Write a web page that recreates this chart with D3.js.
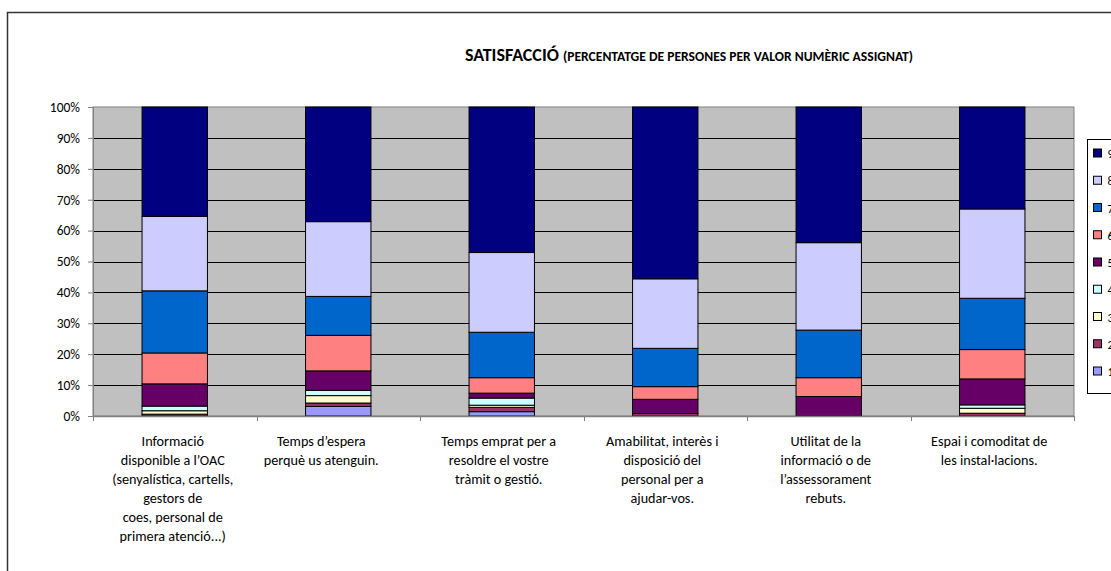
<!DOCTYPE html>
<html>
<head>
<meta charset="utf-8">
<script src="https://cdn.jsdelivr.net/npm/d3@7"></script>
<style>
  html, body { margin: 0; padding: 0; background: #fff; overflow: hidden; }
  svg { display: block; }
  text { font-family: Carlito, Lato, "Open Sans", sans-serif; fill: #000; }
</style>
</head>
<body>
<svg id="chart" width="1111" height="571"></svg>
<script>
// Survey items (x-axis categories), one array of lines per label
const categories = [
  "Informació disponible a l’OAC",
  "Temps d’espera",
  "Temps emprat",
  "Amabilitat",
  "Utilitat",
  "Espai i comoditat"
];
const categoryLines = [
  ["Informació", "disponible a l’OAC", "(senyalística, cartells,", "gestors de", "coes, personal de", "primera atenció...)"],
  ["Temps d’espera", "perquè us atenguin."],
  ["Temps emprat per a", "resoldre el vostre", "tràmit o gestió."],
  ["Amabilitat, interès i", "disposició del", "personal per a", "ajudar-vos."],
  ["Utilitat de la", "informació o de", "l’assessorament", "rebuts."],
  ["Espai i comoditat de", "les instal·lacions."]
];

// Rating values 1..9, stacked from the bottom
const ratingKeys = ["1", "2", "3", "4", "5", "6", "7", "8", "9"];

// Percentage of people giving each rating, per category
const rating1 = [0.0, 3.1, 1.4, 0.0, 0.0, 0.0];
const rating2 = [0.6, 1.1, 1.4, 0.8, 0.0, 0.9];
const rating3 = [1.1, 2.4, 0.7, 0.0, 0.0, 1.6];
const rating4 = [1.5, 1.7, 2.3, 0.0, 0.0, 1.1];
const rating5 = [7.2, 6.3, 1.6, 4.6, 6.3, 8.4];
const rating6 = [10.0, 11.5, 5.0, 4.1, 6.1, 9.5];
const rating7 = [20.1, 12.6, 14.7, 12.4, 15.4, 16.6];
const rating8 = [24.1, 24.2, 25.8, 22.5, 28.3, 28.9];
const rating9 = [35.4, 37.1, 47.1, 55.6, 43.9, 33.0];

const yTickValues = [0, 10, 20, 30, 40, 50, 60, 70, 80, 90, 100];

const ratingColors = {
  "1": "#9999FF", "2": "#993366", "3": "#FFFFCC", "4": "#CCFFFF",
  "5": "#660066", "6": "#FF8080", "7": "#0066CC", "8": "#CCCCFF", "9": "#000080"
};

const seriesValues = [rating1, rating2, rating3, rating4, rating5, rating6, rating7, rating8, rating9];
const table = categories.map((c, i) => {
  const row = { category: c };
  ratingKeys.forEach((k, j) => { row[k] = seriesValues[j][i]; });
  return row;
});

const svg = d3.select("#chart");

// Outer chart frame
svg.append("rect")
  .attr("x", 7.5).attr("y", 12.5)
  .attr("width", 1200).attr("height", 600)
  .attr("fill", "#fff").attr("stroke", "#333").attr("stroke-width", 1.5);

const plot = { left: 93, right: 1074, top: 107, bottom: 416 };

const x = d3.scaleBand()
  .domain(categories)
  .range([plot.left, plot.right])
  .paddingInner(0.6)
  .paddingOuter(0.3);

const y = d3.scaleLinear().domain([0, 100]).range([plot.bottom, plot.top]);

// Plot background
svg.append("rect")
  .attr("x", plot.left).attr("y", plot.top)
  .attr("width", plot.right - plot.left).attr("height", plot.bottom - plot.top)
  .attr("fill", "#C0C0C0").attr("stroke", "#808080").attr("stroke-width", 1);

// Horizontal gridlines
svg.append("g")
  .selectAll("line")
  .data(yTickValues.filter(v => v > 0 && v < 100))
  .join("line")
  .attr("x1", plot.left).attr("x2", plot.right)
  .attr("y1", d => Math.round(y(d)) + 0.5).attr("y2", d => Math.round(y(d)) + 0.5)
  .attr("stroke", "#000").attr("stroke-width", 1);

// Stacked bars
const stack = d3.stack().keys(ratingKeys);
const layers = stack(table);

svg.append("g")
  .selectAll("g")
  .data(layers)
  .join("g")
  .attr("fill", d => ratingColors[d.key])
  .selectAll("rect")
  .data(d => d.filter(s => s[1] - s[0] > 0))
  .join("rect")
  .attr("x", d => x(d.data.category))
  .attr("width", x.bandwidth())
  .attr("y", d => y(d[1]))
  .attr("height", d => y(d[0]) - y(d[1]))
  .attr("stroke", "#000")
  .attr("stroke-width", 1);

// Y axis
const yAxis = svg.append("g")
  .attr("transform", `translate(${plot.left},0)`)
  .call(d3.axisLeft(y).tickValues(yTickValues).tickFormat(d => d + "%").tickSize(5).tickPadding(8));
yAxis.select(".domain").attr("stroke", "#808080");
yAxis.selectAll(".tick line").attr("stroke", "#808080");
yAxis.selectAll(".tick text").style("font-size", "13.5px").attr("fill", "#000");

// X axis with ticks at category boundaries
const boundaries = d3.range(categories.length + 1).map(i => plot.left + i * (plot.right - plot.left) / categories.length);
svg.append("line")
  .attr("x1", plot.left).attr("x2", plot.right)
  .attr("y1", plot.bottom + 0.5).attr("y2", plot.bottom + 0.5)
  .attr("stroke", "#808080").attr("stroke-width", 1.5);
svg.append("g")
  .selectAll("line")
  .data(boundaries)
  .join("line")
  .attr("x1", d => Math.round(d) + 0.5).attr("x2", d => Math.round(d) + 0.5)
  .attr("y1", plot.bottom).attr("y2", plot.bottom + 5)
  .attr("stroke", "#808080");

// Category labels; the wrapped text boxes sit slightly left of band centre
const labelShift = [-2, -17, -3, -3, -3, -3];
const labelG = svg.append("g");
categories.forEach((c, i) => {
  const cx = x(c) + x.bandwidth() / 2 + labelShift[i];
  const t = labelG.append("text")
    .attr("x", cx).attr("y", 446)
    .attr("text-anchor", "middle")
    .style("font-size", "14.2px");
  categoryLines[i].forEach((line, k) => {
    t.append("tspan").attr("x", cx).attr("dy", k === 0 ? 0 : 19).text(line);
  });
});

// Title
const title = svg.append("text")
  .attr("x", 689).attr("y", 61)
  .attr("text-anchor", "middle")
  .style("font-weight", "bold");
title.append("tspan").style("font-size", "18px").text("SATISFACCIÓ ");
title.append("tspan").style("font-size", "13.6px").text("(PERCENTATGE DE PERSONES PER VALOR NUMÈRIC ASSIGNAT)");

// Legend (top rating first)
const legendKeys = ratingKeys.slice().reverse();
const legend = svg.append("g");
legend.append("rect")
  .attr("x", 1087.5).attr("y", 139.5)
  .attr("width", 60).attr("height", 254)
  .attr("fill", "#fff").attr("stroke", "#000");
const ly = d3.scalePoint().domain(legendKeys).range([153.5, 371.5]);
const items = legend.selectAll("g.item")
  .data(legendKeys)
  .join("g").attr("class", "item")
  .attr("transform", d => `translate(1093.5,${ly(d)})`);
items.append("rect")
  .attr("x", 0).attr("y", -4.5).attr("width", 8).attr("height", 8)
  .attr("fill", d => ratingColors[d]).attr("stroke", "#000");
items.append("text")
  .attr("x", 14).attr("y", 4.5)
  .style("font-size", "12px")
  .text(d => d);
</script>
</body>
</html>
